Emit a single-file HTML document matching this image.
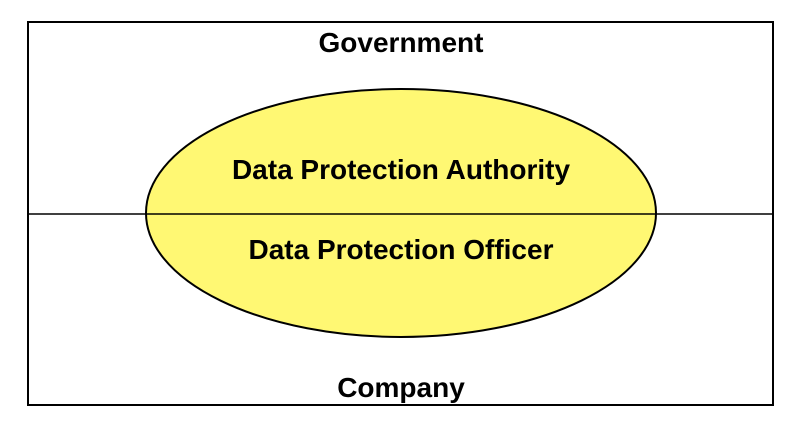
<!DOCTYPE html>
<html><head><style>body{margin:0;background:#fff}</style></head><body>
<svg width="800" height="426" viewBox="0 0 800 426" xmlns="http://www.w3.org/2000/svg" style="display:block">
<rect x="28" y="22" width="745" height="383" fill="#fff" stroke="#000" stroke-width="2"/>
<ellipse cx="401" cy="213" rx="255" ry="124" fill="#fff873" stroke="#000" stroke-width="2"/>
<line x1="28" y1="214" x2="773" y2="214" stroke="#000" stroke-width="1.5"/>
<g font-family="Liberation Sans, sans-serif" font-weight="bold" text-anchor="middle" fill="#000">
<text x="401" y="52" font-size="28">Government</text>
<text x="401" y="179" font-size="28">Data Protection Authority</text>
<text x="401" y="259" font-size="28">Data Protection Officer</text>
<text x="401" y="397" font-size="28">Company</text>
</g>
</svg>
</body></html>
